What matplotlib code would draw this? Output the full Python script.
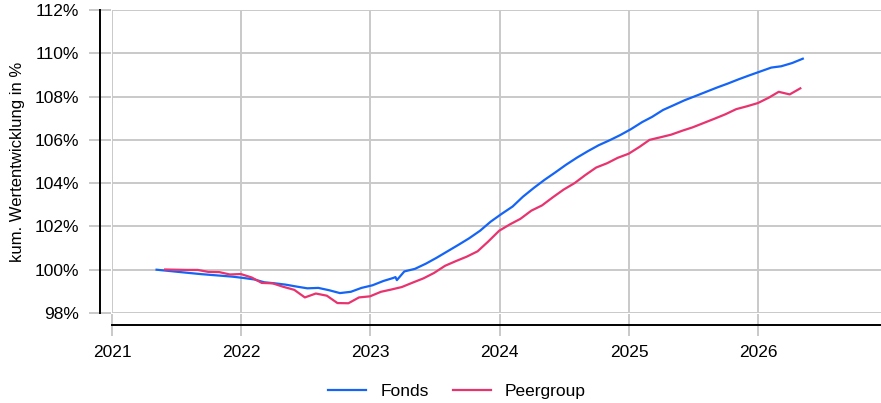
import matplotlib
matplotlib.use("Agg")
import matplotlib.pyplot as plt
import matplotlib.dates as mdates
from matplotlib.lines import Line2D
import pandas as pd

plt.rcParams['font.family'] = ['Liberation Sans', 'DejaVu Sans']

# Fund: monthly observations plus the short dip in March 2023
fonds_dates = list(pd.date_range('2021-05-07', periods=61, freq=pd.DateOffset(months=1)))
fonds_values = [
    100.00, 99.95, 99.90, 99.85, 99.80, 99.76, 99.72, 99.68, 99.62, 99.55,
    99.42, 99.37, 99.31, 99.22, 99.14, 99.16, 99.05, 98.92, 98.98, 99.16,
    99.28, 99.48, 99.62, 99.92, 100.04, 100.28, 100.55, 100.85, 101.15, 101.45,
    101.80, 102.22, 102.58, 102.92, 103.37, 103.78, 104.15, 104.50, 104.85, 105.18,
    105.48, 105.75, 105.98, 106.22, 106.50, 106.82, 107.06, 107.38, 107.60, 107.83,
    108.02, 108.22, 108.42, 108.60, 108.80, 108.98, 109.16, 109.34, 109.40, 109.55,
    109.75,
]
fonds_dip_dates = list(pd.to_datetime(['2023-03-13', '2023-03-17']))
fonds_dip_values = [99.66, 99.52]

# Peer group: month-end observations
peer_dates = list(pd.date_range('2021-05-31', periods=60, freq='ME'))
peer_values = [
    100.01, 100.00, 99.99, 99.99, 99.90, 99.89, 99.78, 99.80, 99.64, 99.39,
    99.37, 99.21, 99.07, 98.72, 98.90, 98.80, 98.46, 98.45, 98.72, 98.77,
    98.98, 99.08, 99.20, 99.40, 99.60, 99.85, 100.18, 100.40, 100.60, 100.85,
    101.30, 101.80, 102.10, 102.35, 102.73, 102.97, 103.35, 103.70, 104.00, 104.38,
    104.72, 104.92, 105.17, 105.36, 105.68, 106.00, 106.12, 106.24, 106.42, 106.58,
    106.78, 106.98, 107.18, 107.42, 107.55, 107.70, 107.95, 108.22, 108.10, 108.38,
]

series_names = ['Fonds', 'Peergroup']
series_colors = ['#1464f6', '#e8336e']
y_ticks = [98, 100, 102, 104, 106, 108, 110, 112]
x_ticks = ['2021', '2022', '2023', '2024', '2025', '2026']

fonds = pd.Series(fonds_values + fonds_dip_values,
                  index=fonds_dates + fonds_dip_dates).sort_index()
peer = pd.Series(peer_values, index=peer_dates)

W, H = 881, 403
fig = plt.figure(figsize=(W / 100, H / 100), dpi=100)
ax = fig.add_axes([112 / W, 1 - 313 / H, (W - 112) / W, (313 - 10) / H])

ax.plot(fonds.index, fonds.values, color=series_colors[0], lw=1.6, zorder=3)
ax.plot(peer.index, peer.values, color=series_colors[1], lw=1.6, zorder=3)

ax.set_ylim(98, 112)
ax.set_yticks(y_ticks)
ax.set_yticklabels([f'{v}%' for v in y_ticks])
ax.set_xlim(pd.Timestamp('2021-01-01'), pd.Timestamp('2026-12-14'))
ax.set_xticks([pd.Timestamp(f'{y}-01-01') for y in x_ticks])
ax.set_xticklabels(x_ticks)

grid_col = '#c9c9c9'
ax.grid(True, color=grid_col, linewidth=1.4)
ax.set_axisbelow(True)

for s in ['top', 'right']:
    ax.spines[s].set_visible(False)
for s in ['left', 'bottom']:
    ax.spines[s].set_position(('outward', 8.6))
    ax.spines[s].set_color('black')
    ax.spines[s].set_linewidth(1.4)

ax.tick_params(axis='both', direction='inout', length=16, width=1.4,
               color=grid_col, labelsize=12.5, labelcolor='black')
ax.tick_params(axis='y', pad=7.0)
ax.tick_params(axis='x', pad=6.5)

ax.set_ylabel('kum. Wertentwicklung in %', fontsize=12, labelpad=7)

handles = [Line2D([], [], color=c, lw=1.6) for c in series_colors]
fig.legend(handles, series_names, loc='center', bbox_to_anchor=(457 / W, 1 - 391 / H),
           ncol=2, frameon=False, fontsize=12.5, handlelength=2.2,
           handletextpad=0.8, columnspacing=1.4)

fig.savefig('out.png', dpi=100)
